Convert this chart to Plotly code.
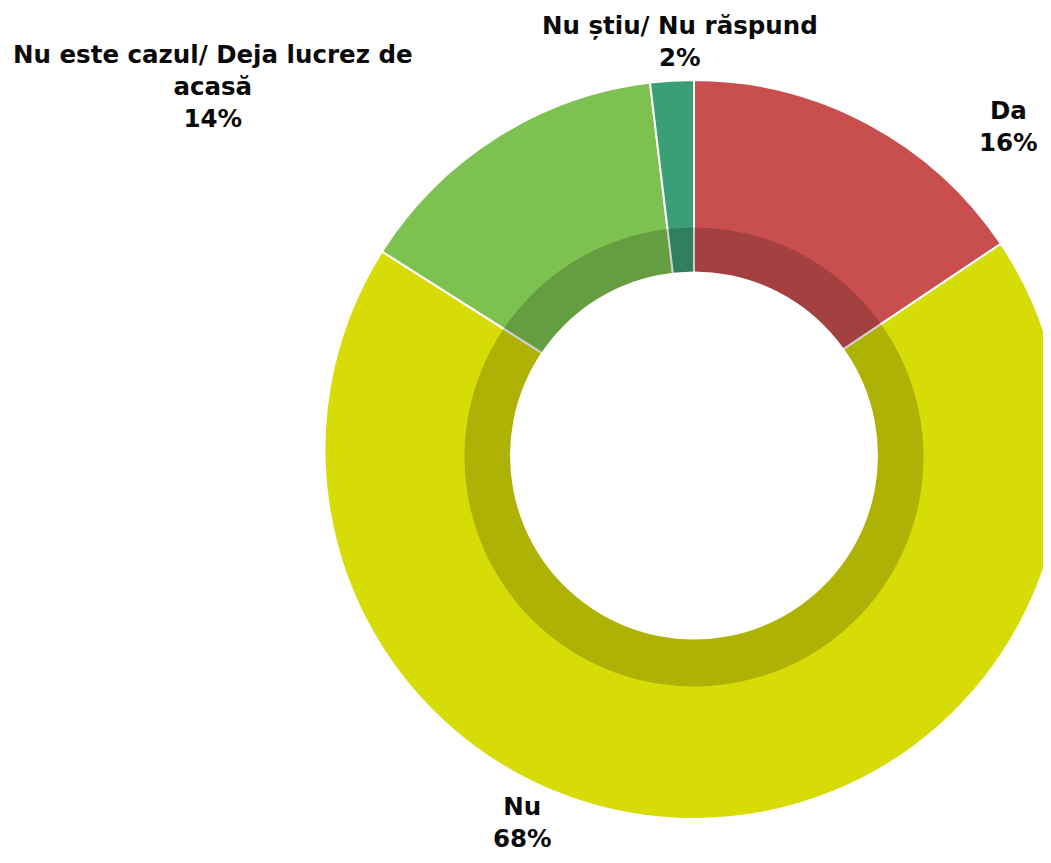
import plotly.graph_objects as go

# survey answers, clockwise from 12 o'clock
categories = ["Da", "Nu", "Nu este cazul/ Deja lucrez de<br>acasă", "Nu știu/ Nu răspund"]
shares = [15.6, 68.4, 14.1, 1.9]
slice_colors = ["#C94F4F", "#D7DC06", "#7DC250", "#3A9E77"]

# label placement in pixels (x, y of text block centre), page has an 8px body margin
label_pos = [(1000, 119), (514, 814), (205, 79), (672, 34)]

W, H = 1056, 847
cx = 686
cy_outer, r_outer = 441.5, 369.5
cy_band, r_band = 449, 229.5
cy_hole, r_hole = 447.5, 184


def dom(cy, r):
    return dict(
        x=[(cx - r) / W, min(1.0, (cx + r) / W)],
        y=[1 - (cy + r) / H, 1 - (cy - r) / H],
    )


fig = go.Figure()

fig.add_trace(go.Pie(
    labels=categories,
    values=shares,
    sort=False,
    direction="clockwise",
    rotation=0,
    hole=0.45,
    marker=dict(colors=slice_colors, line=dict(color="white", width=2)),
    textinfo="none",
    domain=dom(cy_outer, r_outer),
    showlegend=False,
))

# darker band inside the ring
fig.add_trace(go.Pie(
    labels=categories,
    values=shares,
    sort=False,
    direction="clockwise",
    rotation=0,
    hole=175 / r_band,
    marker=dict(colors=["rgba(0,0,0,0.19)"] * len(shares), line=dict(width=0)),
    textinfo="none",
    domain=dom(cy_band, r_band),
    showlegend=False,
    hoverinfo="skip",
))

# white centre of the doughnut
fig.add_shape(
    type="circle", xref="paper", yref="paper", layer="above",
    x0=(cx - r_hole) / W, x1=(cx + r_hole) / W,
    y0=1 - (cy_hole + r_hole) / H, y1=1 - (cy_hole - r_hole) / H,
    fillcolor="white", line=dict(width=0),
)

for name, val, (px, py) in zip(categories, shares, label_pos):
    fig.add_annotation(
        x=px / W, y=1 - py / H, xref="paper", yref="paper",
        xanchor="center", yanchor="middle",
        text=f"{name}<br>{round(val)}%",
        showarrow=False,
        font=dict(family="DejaVu Sans", size=24.5, color="#0a0a0a", weight="bold"),
    )

fig.update_layout(
    width=W, height=H,
    margin=dict(l=0, r=0, t=0, b=0),
    paper_bgcolor="white",
    plot_bgcolor="white",
)

fig.write_html("out.html")
